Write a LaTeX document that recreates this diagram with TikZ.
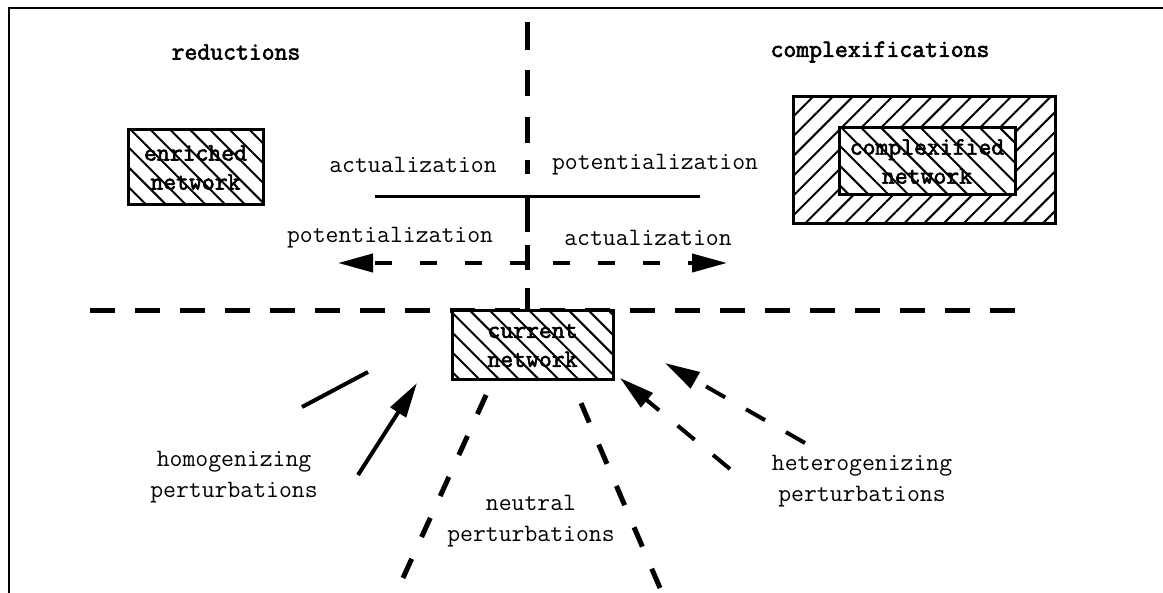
\documentclass[tikz,border=0pt]{standalone}
\usepackage{fontspec}
\newfontfamily\ttb[FakeBold=2.5]{Latin Modern Mono}
\usetikzlibrary{arrows.meta,patterns.meta}
\begin{document}
\begin{tikzpicture}[x=1pt,y=-1pt,
  lbl/.style={font=\ttfamily\fontsize{25}{31.5}\selectfont, inner sep=0pt, align=center},
  bl/.style={font=\ttb\fontsize{25}{29}\selectfont, inner sep=0pt, align=center},
  hatchbox/.style={draw, line width=3pt},
  nwhatch/.style={pattern={Lines[angle=-45,distance=14pt,line width=2pt]}},
  nehatch/.style={pattern={Lines[angle=45,distance=14pt,line width=2pt]}},
  axisdash/.style={line width=5pt, dash pattern=on 25pt off 20pt},
  arrdash/.style={line width=4pt, dash pattern=on 17pt off 28pt},
  pertdash/.style={line width=5pt, dash pattern=on 21pt off 24pt},
  hetdash/.style={line width=4pt, dash pattern=on 22pt off 24pt},
  tip/.style={-{Triangle[length=35pt,width=18pt]}},
]
\useasboundingbox (0,0) rectangle (1163,593);
% frame
\draw[line width=2pt] (9,593) -- (9,8) -- (1163,8);

% headings
\node[bl] (red) at (236,52) {reductions};
\node[bl] (cpx) at (880,52) {complexifications};

% boxes
\node[hatchbox, nwhatch, minimum width=135pt, minimum height=75pt, bl] (enr) at (195.5,167.5) {enriched\\network};
\node[hatchbox, nehatch, minimum width=262pt, minimum height=127pt] (cpxout) at (924,160.5) {};
\node[hatchbox, nwhatch, preaction={fill=white}, minimum width=176pt, minimum height=67pt, bl] (cpxin) at (927,161.5) {complexified\\network};

% axis lines
\coordinate (vtop) at (527,22);
\coordinate (vbot) at (527,311);
\draw[line width=5pt] (vtop) -- (527,50) (527,70) -- (527,96) (527,117) -- (527,143)
  (527,160) -- (527,174) (527,197) -- (527,232) (527,245) -- (527,270) (527,288) -- (vbot);
\coordinate (hl) at (90,311);
\coordinate (hr) at (1030,311);
\draw[axisdash] (hl) -- (hr);

% current network
\node[hatchbox, nwhatch, preaction={fill=white}, minimum width=161pt, minimum height=69pt, bl] (cur) at (532.5,345.5) {current\\network};

% upper labels and solid line
\node[lbl] (act1) at (413,165) {actualization};
\node[lbl] (pot1) at (655,165) {potentialization};
\coordinate (sl) at (375,197);
\coordinate (sr) at (700,197);
\draw[line width=3pt] (sl) -- (sr);

\node[lbl] (pot2) at (390,238) {potentialization};
\node[lbl] (act2) at (648,238) {actualization};
\coordinate (ac) at (527,263);
\coordinate (acr) at (553,263);
\coordinate (al) at (338,263);
\coordinate (ar) at (727,263);
\draw[arrdash, tip] (ac) -- (al);
\draw[arrdash, tip] (acr) -- (ar);

% homogenizing
\node[lbl] (hom) at (234,477) {homogenizing\\perturbations};
\coordinate (h1a) at (302,407);
\coordinate (h1b) at (368,372);
\draw[line width=4pt] (h1a) -- (h1b);
\coordinate (h2a) at (358,475);
\coordinate (h2b) at (417,383);
\draw[line width=4pt, tip] (h2a) -- (h2b);

% neutral
\node[lbl] (neu) at (531,521) {neutral\\perturbations};
\coordinate (n1a) at (403,578);
\coordinate (n1b) at (492,382);
\coordinate (n2a) at (660,588);
\coordinate (n2b) at (572,382);
\draw[pertdash] (n1a) -- (n1b);
\draw[pertdash] (n2a) -- (n2b);

% heterogenizing
\node[lbl] (het) at (862,481) {heterogenizing\\perturbations};
\coordinate (t1a) at (730,469);
\coordinate (t1b) at (620,378);
\coordinate (t2a) at (805,443);
\coordinate (t2b) at (665,363);
\draw[hetdash, tip] (t1a) -- (t1b);
\draw[hetdash, tip] (t2a) -- (t2b);
\end{tikzpicture}
\end{document}
